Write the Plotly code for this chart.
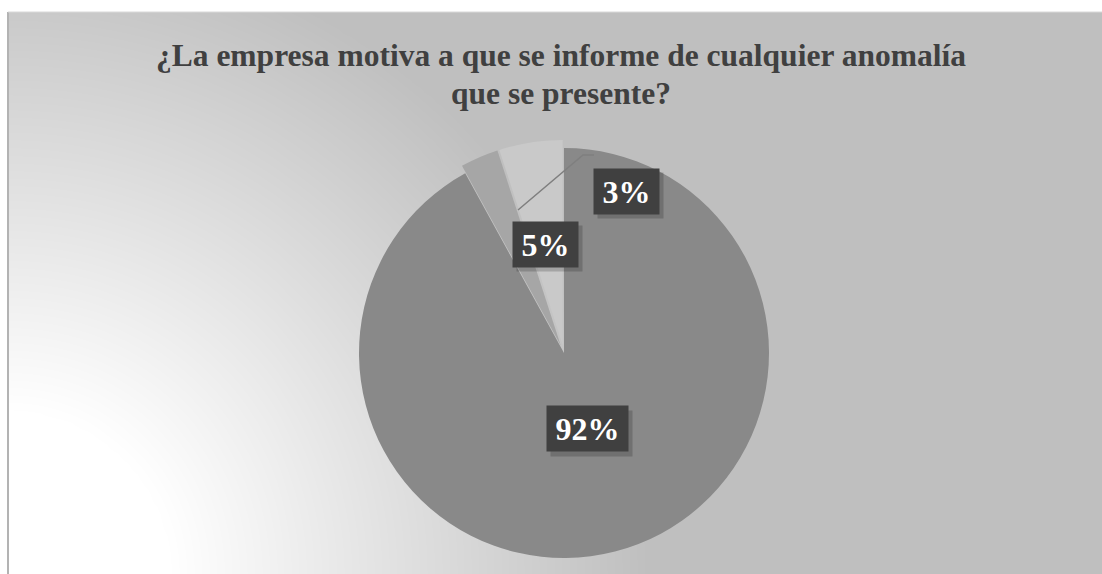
import numpy as np
import plotly.graph_objects as go

# ---- data ----
title_lines = ["¿La empresa motiva a que se informe de cualquier anomalía", "que se presente?"]
categories = ["Sí", "A veces", "No"]
values = [92, 3, 5]
slice_colors = ["#898989", "#a6a6a6", "#c9c9c9"]
pulls = [0, 0.04, 0.04]

SERIF = "Liberation Serif, Times New Roman, Times, DejaVu Serif, serif"

# ---- layout geometry (pixels in a 1102x574 page) ----
W, H = 1102, 574
ML, MT = 8, 12
PW, PH = W - ML, H - MT


def px_x(x):
    return (x - ML) / PW


def px_y(y):
    return 1 - (y - MT) / PH


cx, cy, r = 564, 353, 205
maxpull = max(pulls)
half = r * (1 + maxpull)
dom_x = [px_x(cx - half), px_x(cx + half)]
dom_y = [px_y(cy + half), px_y(cy - half)]

# label box centres (pixels) and widths
label_pos = [(587.5, 452.5), (626, 168), (545.5, 244.5)]
label_w = [73, 57, 57]

fig = go.Figure()

# background radial gradient (white at bottom-left to grey)
gx = np.linspace(0, PW, 111)
gy = np.linspace(0, PH, 57)
X, Y = np.meshgrid(gx, gy)
D = np.sqrt(X ** 2 + Y ** 2)
Z = np.clip((D - 160) / 480, 0, 1)
fig.add_trace(go.Heatmap(x=gx, y=gy, z=Z, zmin=0, zmax=1, zsmooth="best",
                         colorscale=[[0, "#ffffff"], [1, "#bfbfbf"]],
                         showscale=False, hoverinfo="skip"))

fig.add_trace(go.Pie(labels=categories, values=values, sort=False,
                     direction="clockwise", rotation=0, pull=pulls,
                     marker=dict(colors=slice_colors, line=dict(width=0)),
                     textinfo="none", showlegend=False,
                     domain=dict(x=dom_x, y=dom_y), hoverinfo="label+percent"))

total = sum(values)
annotations = []
for v, (lx, ly), w in zip(values, label_pos, label_w):
    txt = f"{round(100 * v / total)}%"
    # shadow
    annotations.append(dict(x=px_x(lx + 4), y=px_y(ly + 4), xref="paper", yref="paper",
                            text=" ", showarrow=False, width=w, height=37, borderpad=4,
                            bgcolor="rgba(0,0,0,0.18)", font=dict(size=28)))
    annotations.append(dict(x=px_x(lx), y=px_y(ly), xref="paper", yref="paper",
                            text=f"<b>{txt}</b>", showarrow=False, width=w, height=37,
                            borderpad=4, bgcolor="#404040",
                            font=dict(family=SERIF, size=32, color="#ffffff")))

annotations.append(dict(x=px_x(561), y=px_y(55), xref="paper", yref="paper",
                        text=f"<b>{title_lines[0]}</b>", showarrow=False,
                        xanchor="center", yanchor="middle",
                        font=dict(family=SERIF, size=31.5, color="#404040")))
annotations.append(dict(x=px_x(561), y=px_y(94), xref="paper", yref="paper",
                        text=f"<b>{title_lines[1]}</b>", showarrow=False,
                        xanchor="center", yanchor="middle",
                        font=dict(family=SERIF, size=31.5, color="#404040")))

shapes = [
    dict(type="line", xref="paper", yref="paper", x0=0, x1=0, y0=0, y1=1,
         line=dict(color="#b3b3b3", width=2)),
    dict(type="line", xref="paper", yref="paper", x0=0, x1=1, y0=1, y1=1,
         line=dict(color="#d9d9d9", width=1)),
    dict(type="path", xref="paper", yref="paper",
         path=f"M {px_x(518)} {px_y(210)} L {px_x(583)} {px_y(155)} L {px_x(594)} {px_y(155)}",
         line=dict(color="#7f7f7f", width=1.5)),
]

fig.update_layout(
    width=W, height=H,
    margin=dict(l=ML, r=0, t=MT, b=0),
    paper_bgcolor="#ffffff", plot_bgcolor="#ffffff",
    xaxis=dict(range=[0, PW], visible=False, fixedrange=True),
    yaxis=dict(range=[0, PH], visible=False, fixedrange=True),
    annotations=annotations, shapes=shapes,
)

fig.write_html("out.html", config={"displayModeBar": False},
               post_script="document.body.style.margin='0';document.body.style.overflow='hidden';")
